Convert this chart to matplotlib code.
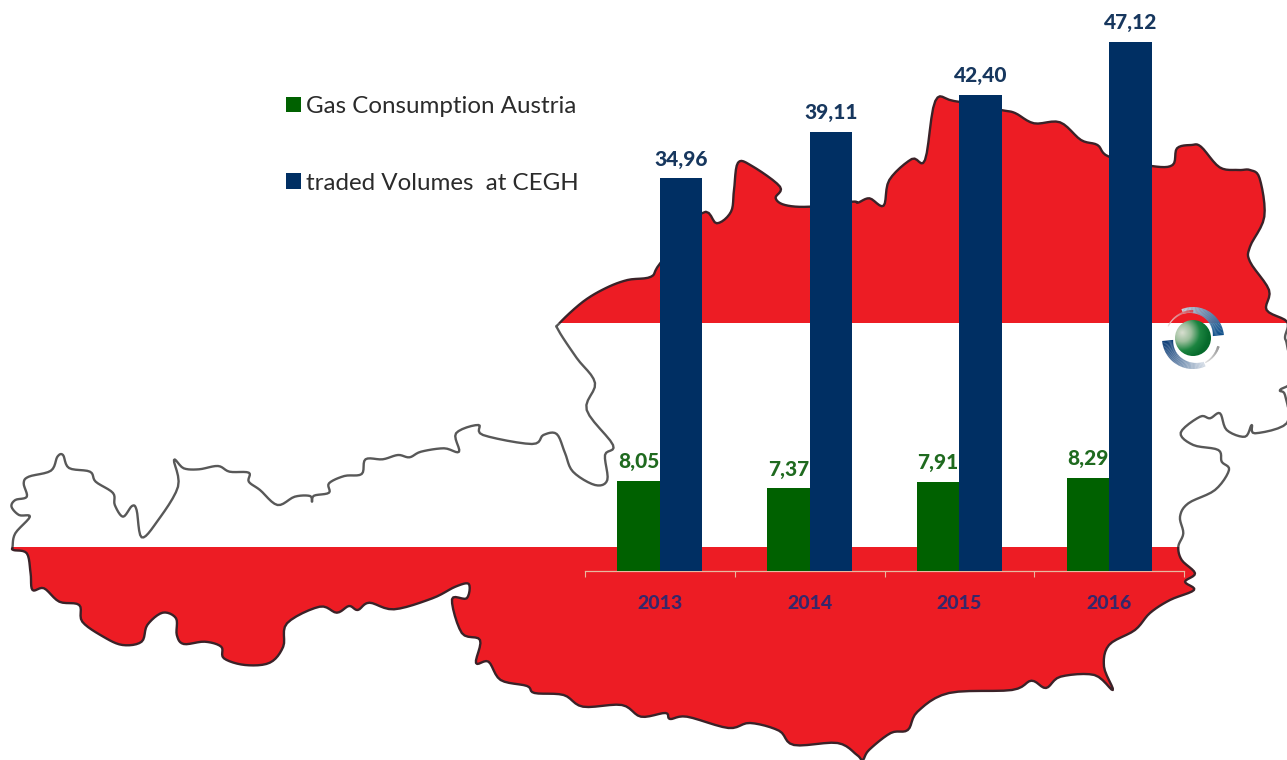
import numpy as np
import matplotlib
matplotlib.use("Agg")
import matplotlib.pyplot as plt
from matplotlib.patches import Polygon, Rectangle, Wedge, Circle
from matplotlib.colors import LinearSegmentedColormap, to_rgb

# ---- chart data ----
years = ["2013", "2014", "2015", "2016"]
consumption = [8.05, 7.37, 7.91, 8.29]
traded = [34.96, 39.11, 42.40, 47.12]
series_names = ["Gas Consumption Austria", "traded Volumes  at CEGH"]

# ---- background decoration: outline of Austria, in image pixels ----
outline_x = [12.6,15.3,29.9,19,11.5,15.3,26.8,23.7,28.7,50.9,57.4,63,69,90,95.7,113,114.8,123,132,136.6,141.6,157,178,174,183.7,199,218,229.6,248.8,248.8,260,277.5,294.7,310,312,314,329,329,344.4,361.7,365.5,382.7,398,409.5,421,444,459,456,478.4,483,532,543.4,556.7,565,573,595,607.3,605,613,586.7,595,576.7,558.3,559.4,583,606,627.5,651,660.4,701.8,716.8,731,734,738,752,780,775.6,785,809.4,852,857.8,869.5,883.6,889.3,911.8,925,935.3,954,1001,1015,1034,1060,1081,1097.5,1109,1151.5,1172.6,1177,1191.5,1201,1219.6,1238.4,1250,1259.6,1264.3,1250,1250,1269,1266.6,1287,1285,1287,1292,1280,1285,1287,1255,1251.7,1245,1226.7,1220,1210,1200,1180.7,1193.3,1218.3,1221.7,1229,1215,1188.3,1180,1183.3,1178.3,1181.7,1195,1185,1194,1170,1150,1135,1109,1104,1112.8,1094.4,1060.5,1046,1031.4,1012,949,917.5,907.8,890.8,869,862.7,857,837.5,793.9,779,750,728.4,687,670,665.4,641,621.8,583,563.6,534.5,527,500.6,488.5,476,480,461.8,452,466.7,468.8,455.4,432.4,394,369.3,357.8,349,336.8,319.6,287,283.2,269.8,245,223.9,221.2,204.7,183.7,176.8,176,162.6,147.3,141.6,122.5,103.3,82.3,79.2,59.3,44,32.5,30.6,26.8,13.4]
outline_y = [546.7,533.3,516.7,515,506.7,500,496.7,483.3,476.7,470.7,456.7,455,468,471.7,481.7,493,505,516.7,506,510,537.3,521.7,486.7,460,468.3,469.3,466,471.7,472.7,481.7,490,505,496.7,496,501.7,495.7,492.7,483.3,476,474,459.3,459.3,455,457.3,451.7,448.3,451.7,433.3,425,435,444,435,434,453,471.7,485,480,455,445,410,383,358,330,323.3,301.7,288,280,276.7,263,213.3,223.3,211.7,190,162.7,166,186.7,198,205,206.7,201.7,202.7,198.3,205.7,180,159,160,101,101,110,113,123.3,122.3,140,145,156.7,166,165,148.3,145,146.7,167.3,170,170,178.3,216.7,246.7,261.7,290,310,321.7,337,345,380,390,395,423,433.3,425,436.7,430,413.3,418.3,416.7,432.7,445,450,461.7,470,490,503.3,516.7,533.3,546.7,560,573.3,581.7,590,600,613,630,645,666.7,690,675,676.7,688,680.7,690,693,711.7,730,733,750,760,755,743,745,730.7,723,728,716.7,719,713,716.7,705,706.7,695,693,686,680,661.7,663,640,633,599.3,598.3,584,586.7,598.3,609.3,602.7,610,606,612.7,606.7,623.3,646.7,662.7,665,658.3,646.7,641.7,644,635,618.3,612.7,625,641.7,645,636.7,621.7,605,601.7,588.3,590,573.3,553.3,550]

W, H = 1287, 760
RED = "#ed1c24"
GREEN = "#006100"
BLUE = "#002f63"
FONT = ["Lato", "DejaVu Sans"]
plt.rcParams["font.family"] = FONT


def rounded(px, py, n=6):
    """Round the corners of the closed map outline (Catmull-Rom)."""
    p = np.column_stack([px, py])
    out = []
    m = len(p)
    for i in range(m):
        p0, p1, p2, p3 = p[i - 1], p[i], p[(i + 1) % m], p[(i + 2) % m]
        for t in np.arange(n) / n:
            out.append(0.5 * (2 * p1 + (p2 - p0) * t + (2 * p0 - 5 * p1 + 4 * p2 - p3) * t ** 2
                              + (3 * p1 - p0 - 3 * p2 + p3) * t ** 3))
    return np.array(out)


fig = plt.figure(figsize=(W / 100, H / 100), dpi=100, facecolor="white")

# map layer in image pixels
bg = fig.add_axes([0, 0, 1, 1])
bg.set_xlim(0, W)
bg.set_ylim(H, 0)
bg.axis("off")
xy = rounded(outline_x, outline_y)

for y0, y1 in [(0, 323), (547, H)]:
    band = Rectangle((0, y0), W, y1 - y0, transform=bg.transData)
    face = Polygon(xy, closed=True, facecolor=RED, edgecolor="none", zorder=1)
    bg.add_patch(face)
    face.set_clip_path(band)
    edge = Polygon(xy, closed=True, facecolor="none", edgecolor="#3a2228", lw=1.7, zorder=2, joinstyle="round")
    bg.add_patch(edge)
    edge.set_clip_path(band)
white_band = Rectangle((0, 323), W, 224, transform=bg.transData)
edge = Polygon(xy, closed=True, facecolor="none", edgecolor="#585858", lw=1.7, zorder=2, joinstyle="round")
bg.add_patch(edge)
edge.set_clip_path(white_band)

# CEGH logo
cx, cy = 1193, 338


def arc(t0, t1, r, w0, w1, c0, c1, n=40):
    a = np.linspace(t0, t1, n + 1)
    c0, c1 = np.array(to_rgb(c0)), np.array(to_rgb(c1))
    for i in range(n):
        f = i / (n - 1)
        lo, hi = sorted((a[i], a[i + 1]))
        bg.add_patch(Wedge((cx, cy), r, lo, hi + 0.5, width=w0 + (w1 - w0) * f,
                           facecolor=c0 + (c1 - c0) * f, edgecolor="none", zorder=3))


# y axis is inverted: angles run clockwise on screen
arc(-112, -6, 31, 5, 11, "#c4d2de", "#0f4f8a")
arc(174, 66, 31, 11, 5, "#0f3f78", "#d4dce6")
arc(18, 63, 28, 2.5, 1, "#8a8a8a", "#dcdcdc")
arc(-155, -90, 28, 1, 2.5, "#ead8d8", "#d8404a")
g = np.linspace(-1, 1, 90)
gx, gy = np.meshgrid(g, g)
d = np.clip(np.hypot(gx + 0.6, gy + 0.3) / 1.5, 0, 1)
cmap = LinearSegmentedColormap.from_list("sphere", ["#d8dfd0", "#9dbf9d", "#1c8440", "#066a2c"])
im = bg.imshow(d, cmap=cmap, extent=(cx - 18, cx + 18, cy + 18, cy - 18), zorder=4, aspect="auto", vmin=0, vmax=1)
im.set_clip_path(Circle((cx, cy), 18, transform=bg.transData))
bg.set_xlim(0, W)
bg.set_ylim(H, 0)

# bar chart layer
left, right, base, top = 585, 1184, 571, 0
ax = fig.add_axes([left / W, (H - base) / H, (right - left) / W, (base - top) / H])
ax.patch.set_alpha(0)
x = np.arange(len(years))
w = 42.5 / 149.75
b1 = ax.bar(x - w / 2, consumption, w, color=GREEN, label=series_names[0], zorder=3)
b2 = ax.bar(x + w / 2, traded, w, color=BLUE, label=series_names[1], zorder=3)
ax.set_xlim(-0.5, 3.5)
ax.set_ylim(0, base / 11.23)
for s in ("top", "left", "right"):
    ax.spines[s].set_visible(False)
ax.spines["bottom"].set_color("#e8b9a0")
ax.spines["bottom"].set_linewidth(0.9)
ax.set_yticks([])
ax.set_xticks(x, years, fontsize=14, fontweight="black", color="#36276a")
ax.set_xticks(np.arange(len(years) + 1) - 0.5, minor=True)
ax.tick_params(axis="x", which="major", length=0, pad=17)
ax.tick_params(axis="x", which="minor", length=4, color="#e8b9a0", width=0.8)

for bars, vals, col in [(b1, consumption, "#1f6a1f"), (b2, traded, "#17375e")]:
    labels = [f"{v:.2f}".replace(".", ",") for v in vals]
    ax.bar_label(bars, labels=labels, padding=7, color=col, fontsize=15, fontweight="black")

fig.legend(handles=[b1, b2], loc="upper left", bbox_to_anchor=(286 / W, 1 - 96 / H),
           bbox_transform=fig.transFigure, frameon=False, fontsize=17.4,
           handlelength=0.62, handleheight=0.62, handletextpad=0.22,
           labelspacing=2.3, borderpad=0, borderaxespad=0, labelcolor="#2b2b2b")

fig.savefig("out.png", dpi=100)
